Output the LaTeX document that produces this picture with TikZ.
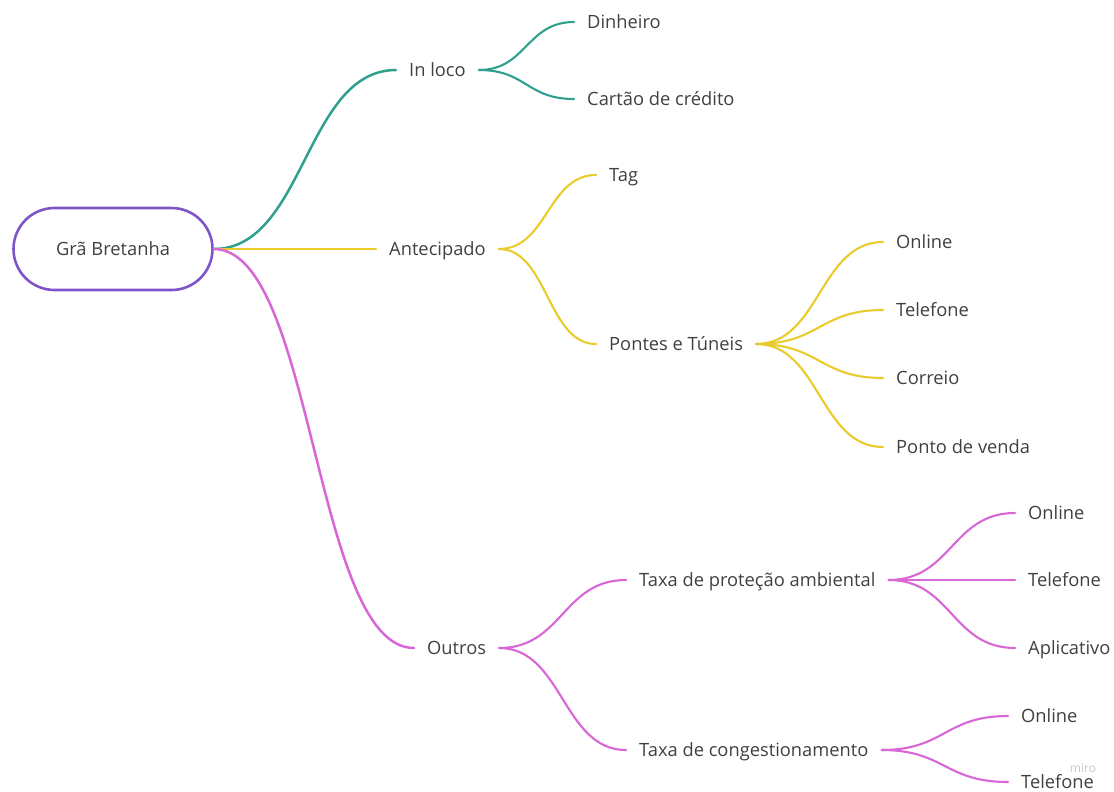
\documentclass[tikz,border=0pt]{standalone}
\usepackage{fontspec}
\setmainfont{Open Sans}
\usetikzlibrary{calc}
\definecolor{txt}{HTML}{404040}
\definecolor{cteal}{HTML}{2FA08E}
\definecolor{cyel}{HTML}{E9CB2C}
\definecolor{cmag}{HTML}{D966D6}
\definecolor{cpur}{HTML}{7E55C8}
\begin{document}
\begin{tikzpicture}[x=1pt,y=-1pt,
  lbl/.style={font=\fontsize{18.3}{22}\selectfont, text=txt, anchor=west, inner xsep=13pt, inner ysep=0pt, text height=12.8pt, text depth=0pt},
  rootbox/.style={draw=cpur, line width=2.6pt, rounded corners=41pt, minimum width=199pt, minimum height=82pt, font=\fontsize{18.3}{22}\selectfont, text=txt, text height=12.8pt, text depth=0pt},
  sc/.style={to path={let \p1=(\tikztostart), \p2=(\tikztotarget), \n1={0.5*(\x2-\x1)} in .. controls +(\n1,0) and +(-\n1,0) .. (\tikztotarget)}},
  br/.style={line width=2.5pt, line cap=round},
  sb/.style={line width=2.1pt, line cap=round}]
\useasboundingbox (0,0) rectangle (1114,792);

\node[rootbox] (root) at (113,249) {Grã Bretanha};

\node[lbl] (inloco) at (396,70) {In loco};
\node[lbl] (antec) at (376,249) {Antecipado};
\node[lbl] (outros) at (414,648) {Outros};

\node[lbl] (dinheiro) at (574,22) {Dinheiro};
\node[lbl] (cartao) at (574,99) {Cartão de crédito};
\node[lbl] (tag) at (596,175) {Tag};
\node[lbl] (pontes) at (596,344) {Pontes e Túneis};
\node[lbl] (taxaprot) at (626,580) {Taxa de proteção ambiental};
\node[lbl] (taxacong) at (626,750) {Taxa de congestionamento};

\node[lbl] (onA) at (883,242) {Online};
\node[lbl] (telA) at (883,310) {Telefone};
\node[lbl] (cor) at (883,378) {Correio};
\node[lbl] (pv) at (883,447) {Ponto de venda};

\node[lbl] (onB) at (1015,513) {Online};
\node[lbl] (telB) at (1015,580) {Telefone};
\node[lbl] (apl) at (1015,648) {Aplicativo};

\node[lbl] (onC) at (1008,716) {Online};
\node[lbl] (telC) at (1008,782) {Telefone};

\node[font=\fontsize{12}{12}\selectfont, text=black!22, inner sep=0pt] (miro) at (1083,768) {miro};

% level 1
\draw[br, cteal] (root.east) to[sc] (inloco.west);
\draw[br, cyel] (root.east) to[sc] (antec.west);
\draw[br, cmag] (root.east) to[sc] (outros.west);

% level 2
\draw[sb, cteal] (inloco.east) to[sc] (dinheiro.west);
\draw[sb, cteal] (inloco.east) to[sc] (cartao.west);
\draw[sb, cyel] (antec.east) to[sc] (tag.west);
\draw[sb, cyel] (antec.east) to[sc] (pontes.west);
\draw[sb, cmag] (outros.east) to[sc] (taxaprot.west);
\draw[sb, cmag] (outros.east) to[sc] (taxacong.west);

% level 3
\draw[sb, cyel] (pontes.east) to[sc] (onA.west);
\draw[sb, cyel] (pontes.east) to[sc] (telA.west);
\draw[sb, cyel] (pontes.east) to[sc] (cor.west);
\draw[sb, cyel] (pontes.east) to[sc] (pv.west);
\draw[sb, cmag] (taxaprot.east) to[sc] (onB.west);
\draw[sb, cmag] (taxaprot.east) to[sc] (telB.west);
\draw[sb, cmag] (taxaprot.east) to[sc] (apl.west);
\draw[sb, cmag] (taxacong.east) to[sc] (onC.west);
\draw[sb, cmag] (taxacong.east) to[sc] (telC.west);
\end{tikzpicture}
\end{document}
